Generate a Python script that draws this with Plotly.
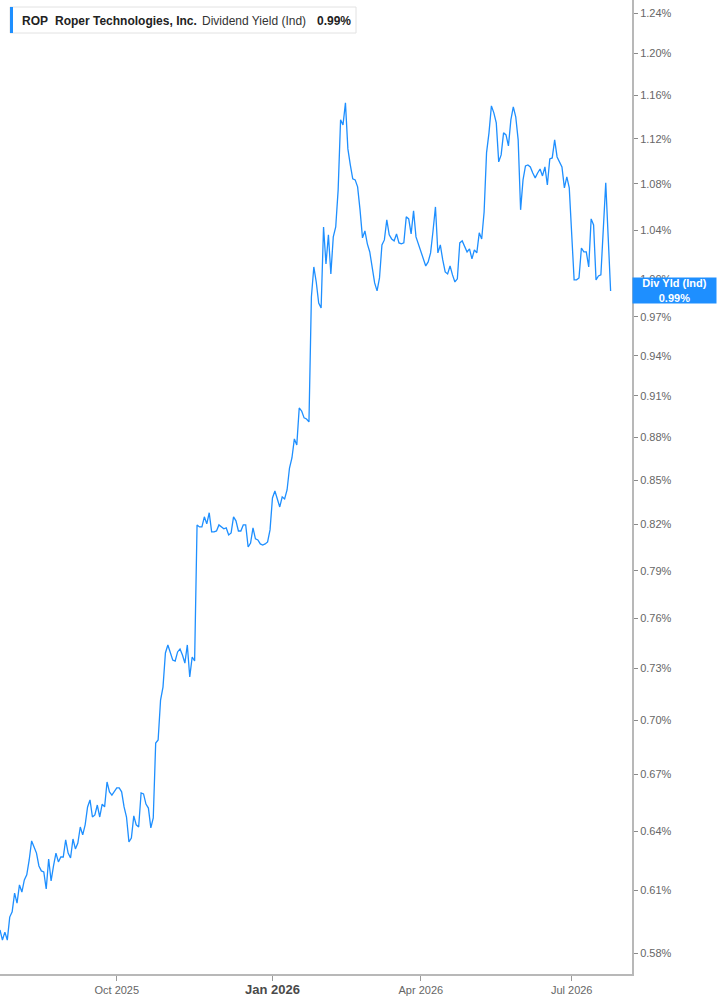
import math
import pandas as pd
import plotly.graph_objects as go

# ---------------- data ----------------
TICKER = "ROP"
COMPANY = "Roper Technologies, Inc."
METRIC = "Dividend Yield (Ind)"
SHORT_METRIC = "Div Yld (Ind)"

START_DATE = "2025-07-24"
HOLIDAYS = ["2025-09-01", "2025-11-27", "2025-12-25", "2026-01-01", "2026-01-19",
            "2026-02-16", "2026-04-03", "2026-05-25", "2026-06-19", "2026-07-03"]

# daily dividend yield (%), one value per trading day
div_yield = [
    0.5909, 0.5861, 0.5899, 0.5861, 0.5971, 0.5996, 0.6088, 0.6039, 0.6128, 0.6093,
    0.6153, 0.6178, 0.6253, 0.6350, 0.6319, 0.6288, 0.6223, 0.6198, 0.6193, 0.6108,
    0.6258, 0.6148, 0.6223, 0.6288, 0.6243, 0.6268, 0.6268, 0.6355, 0.6288, 0.6263,
    0.6360, 0.6309, 0.6339, 0.6422, 0.6381, 0.6433, 0.6527, 0.6564, 0.6474, 0.6485,
    0.6537, 0.6474, 0.6542, 0.6527, 0.6660, 0.6607, 0.6590, 0.6612, 0.6628, 0.6628,
    0.6607, 0.6527, 0.6474, 0.6345, 0.6365, 0.6480, 0.6433, 0.6422, 0.6601, 0.6596,
    0.6542, 0.6521, 0.6417, 0.6469, 0.6873, 0.6890, 0.7116, 0.7191, 0.7392, 0.7440,
    0.7392, 0.7350, 0.7344, 0.7398, 0.7416, 0.7380, 0.7332, 0.7440, 0.7250, 0.7368,
    0.7344, 0.8198, 0.8185, 0.8185, 0.8252, 0.8205, 0.8279, 0.8152, 0.8152, 0.8158,
    0.8198, 0.8185, 0.8172, 0.8178, 0.8132, 0.8145, 0.8252, 0.8225, 0.8158, 0.8158,
    0.8198, 0.8198, 0.8053, 0.8079, 0.8178, 0.8106, 0.8099, 0.8073, 0.8066, 0.8073,
    0.8086, 0.8165, 0.8379, 0.8426, 0.8365, 0.8318, 0.8386, 0.8372, 0.8433, 0.8584,
    0.8654, 0.8788, 0.8746, 0.9011, 0.8989, 0.8939, 0.8931, 0.8910, 0.9857, 1.0099,
    0.9977, 0.9809, 0.9770, 1.0431, 1.0124, 1.0364, 1.0042, 1.0347, 1.0431, 1.0748,
    1.1374, 1.1328, 1.1531, 1.1110, 1.0967, 1.0844, 1.0835, 1.0774, 1.0576, 1.0339,
    1.0397, 1.0289, 1.0222, 1.0099, 0.9969, 0.9905, 1.0010, 1.0280, 1.0322, 1.0490,
    1.0364, 1.0330, 1.0314, 1.0372, 1.0297, 1.0289, 1.0297, 1.0516, 1.0499, 1.0372,
    1.0567, 1.0347, 1.0289, 1.0239, 1.0173, 1.0107, 1.0140, 1.0214, 1.0397, 1.0601,
    1.0214, 1.0280, 1.0156, 1.0058, 1.0042, 1.0107, 1.0034, 0.9977, 1.0002, 1.0297,
    1.0314, 1.0272, 1.0222, 1.0247, 1.0165, 1.0239, 1.0214, 1.0381, 1.0330, 1.0558,
    1.1074, 1.1255, 1.1503, 1.1438, 1.1346, 1.0994, 1.1056, 1.1255, 1.1236, 1.1137,
    1.1374, 1.1494, 1.1402, 1.1191, 1.0576, 1.0835, 1.0958, 1.0967, 1.0949, 1.0896,
    1.0853, 1.0896, 1.0931, 1.0870, 1.0949, 1.0791, 1.1020, 1.1029, 1.1191, 1.1038,
    1.0985, 1.0949, 1.0765, 1.0861, 1.0765, 1.0406, 0.9994, 0.9994, 1.0010, 1.0255,
    1.0222, 1.0222, 1.0099, 1.0499, 1.0448, 0.9994, 1.0026, 1.0034, 1.0465, 1.0809,
    1.0347, 0.9905,
]

LAST_VALUE = 0.99

y_tick_vals = [0.58, 0.61, 0.64, 0.67, 0.70, 0.73, 0.76, 0.79, 0.82, 0.85, 0.88,
               0.91, 0.94, 0.97, 1.00, 1.04, 1.08, 1.12, 1.16, 1.20, 1.24]
y_tick_text = ["%.2f%%" % v for v in y_tick_vals]

x_tick_vals = ["2025-10-01", "2026-01-02", "2026-04-01", "2026-07-01"]
x_tick_text = ["Oct 2025", "<b><span style='font-size:13px;fill:#4a4a4a'>Jan 2026</span></b>",
               "Apr 2026", "Jul 2026"]

# ---------------- figure ----------------
BLUE = "#1e8fff"
W, H = 717, 1005
ML, MR, MT, MB = 0, 85, 0, 31
PW, PH = W - ML - MR, H - MT - MB

dates = pd.bdate_range(START_DATE, periods=len(div_yield), freq="C", holidays=HOLIDAYS)

fig = go.Figure()
fig.add_trace(go.Scatter(
    x=dates, y=div_yield, mode="lines",
    line=dict(color=BLUE, width=1.3),
    hoverinfo="skip", showlegend=False,
))

FONT = "Liberation Sans, Arial, sans-serif"

fig.update_layout(
    width=W, height=H,
    margin=dict(l=ML, r=MR, t=MT, b=MB, pad=0),
    paper_bgcolor="white", plot_bgcolor="white",
    font=dict(family=FONT, size=11, color="#666666"),
    showlegend=False,
)

fig.update_xaxes(
    type="date",
    range=["2025-07-24", "2026-08-05 19:00"],
    rangebreaks=[dict(bounds=["sat", "mon"]), dict(values=HOLIDAYS)],
    tickmode="array", tickvals=x_tick_vals, ticktext=x_tick_text,
    showgrid=False, zeroline=False,
    showline=True, linecolor="#b8b8b8", linewidth=2,
    ticks="outside", ticklen=5, tickwidth=1, tickcolor="#9a9a9a",
    tickfont=dict(size=11, color="#666666"),
)

fig.update_yaxes(
    type="log", side="right",
    range=[math.log10(0.57024), math.log10(1.2531)],
    tickmode="array", tickvals=y_tick_vals, ticktext=y_tick_text,
    showgrid=False, zeroline=False,
    showline=True, linecolor="#b8b8b8", linewidth=2,
    ticks="outside", ticklen=4, tickwidth=1, tickcolor="#8a8a8a",
    tickfont=dict(size=11, color="#666666"),
)

def px_x(p):
    return p / PW

def px_y(p):
    return 1 - p / PH

# header box
fig.add_shape(type="rect", xref="paper", yref="paper",
              x0=px_x(10), x1=px_x(356), y0=px_y(33), y1=px_y(7),
              fillcolor="white", line=dict(color="#e2e2e2", width=1), layer="above")
fig.add_shape(type="rect", xref="paper", yref="paper",
              x0=px_x(10), x1=px_x(13), y0=px_y(33), y1=px_y(7),
              fillcolor=BLUE, line=dict(width=0), layer="above")

header_items = [
    (20, "<b>%s</b>" % TICKER, "#222222"),
    (53, "<b>%s</b>" % COMPANY, "#222222"),
    (200, METRIC, "#333333"),
    (315, "<b>%.2f%%</b>" % LAST_VALUE, "#222222"),
]
for xp, txt, col in header_items:
    fig.add_annotation(xref="paper", yref="paper", x=px_x(xp), y=px_y(20.5),
                       xanchor="left", yanchor="middle", text=txt, showarrow=False,
                       font=dict(family=FONT, size=12, color=col))

# last-value label on the right axis
fig.add_annotation(xref="paper", yref="y", x=1, y=math.log10(div_yield[-1]),
                   xanchor="left", yanchor="middle", showarrow=False,
                   text="<b>%s</b><br><b>%.2f%%</b>" % (SHORT_METRIC, LAST_VALUE),
                   font=dict(family=FONT, size=11, color="white"),
                   bgcolor=BLUE, borderpad=1, width=81, height=23, align="center")

fig.write_html("out.html")
